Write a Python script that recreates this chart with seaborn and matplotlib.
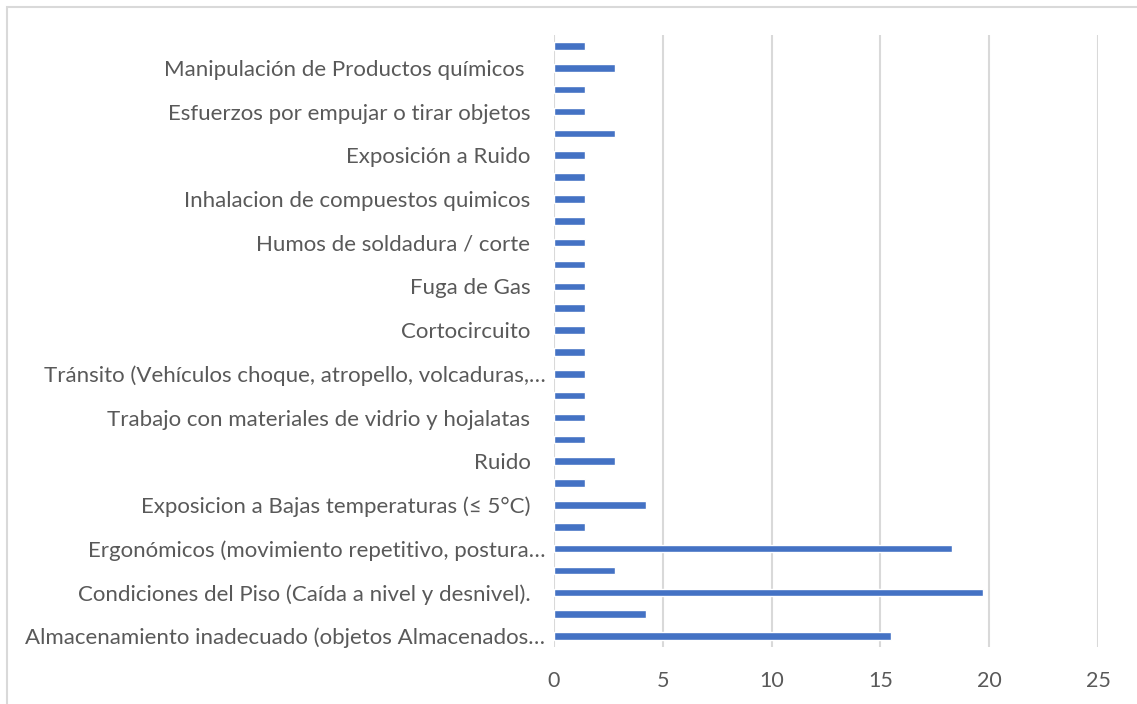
import seaborn as sns
import matplotlib.pyplot as plt
import matplotlib.transforms as mtransforms
import pandas as pd
from matplotlib.patches import Rectangle

# top to bottom; only every other category label is shown in the original chart
labels = [
    "", "Manipulación de Productos químicos ",
    "", "Esfuerzos por empujar o tirar objetos",
    "", "Exposición a Ruido",
    "", "Inhalacion de compuestos quimicos",
    "", "Humos de soldadura / corte",
    "", "Fuga de Gas",
    "", "Cortocircuito",
    "", "Tránsito (Vehículos choque, atropello, volcaduras,…",
    "", "Trabajo con materiales de vidrio y hojalatas",
    "", "Ruido",
    "", "Exposicion a Bajas temperaturas (≤ 5°C)",
    "", "Ergonómicos (movimiento repetitivo, postura…",
    "", "Condiciones del Piso (Caída a nivel y desnivel).",
    "", "Almacenamiento inadecuado (objetos Almacenados…",
]
values = [1.41, 2.82, 1.41, 1.41, 2.82, 1.41, 1.41, 1.41, 1.41, 1.41,
          1.41, 1.41, 1.41, 1.41, 1.41, 1.41, 1.41, 1.41, 1.41, 2.82,
          1.41, 4.23, 1.41, 18.31, 2.82, 19.72, 4.23, 15.49]
xticks = [0, 5, 10, 15, 20, 25]

df = pd.DataFrame({"pos": range(len(values)), "valor": values})

sns.set_theme(style="white")
plt.rcParams['font.family'] = ['Lato', 'DejaVu Sans']

W, H = 1137, 704
fig = plt.figure(figsize=(W / 100, H / 100), dpi=100)
ax = fig.add_axes([554 / W, 1 - 647 / H, (1098 - 554) / W, (647 - 35) / H])

sns.barplot(data=df, x="valor", y="pos", orient="h", color="#4472C4",
            saturation=1, width=0.34, ax=ax)

ax.set_xlim(0, 25)
ax.set_xticks(xticks)
ax.set_xticklabels([str(t) for t in xticks], fontsize=15.5, color="#595959")
ax.set_yticks(range(len(labels)))
ax.set_yticklabels(labels, fontsize=16, color="#595959")
ax.tick_params(axis="both", length=0)
ax.tick_params(axis="x", pad=17)
ax.tick_params(axis="y", pad=17)
# truncated labels reach a bit further right, as in the original
for t in ax.get_yticklabels():
    if t.get_text().endswith("…"):
        t.set_transform(t.get_transform() + mtransforms.ScaledTranslation(15 / 100, 0, fig.dpi_scale_trans))
ax.set_xlabel("")
ax.set_ylabel("")
ax.grid(axis="x", color="#d9d9d9", linewidth=1.5)
ax.set_axisbelow(True)
for s in ax.spines.values():
    s.set_visible(False)

# chart area border
fig.patches.append(Rectangle((7 / W, -0.01), 1.02, 1 - 7 / H + 0.01,
                             transform=fig.transFigure, fill=False,
                             edgecolor="#d9d9d9", linewidth=1.5))

fig.savefig("out.png", dpi=100)
